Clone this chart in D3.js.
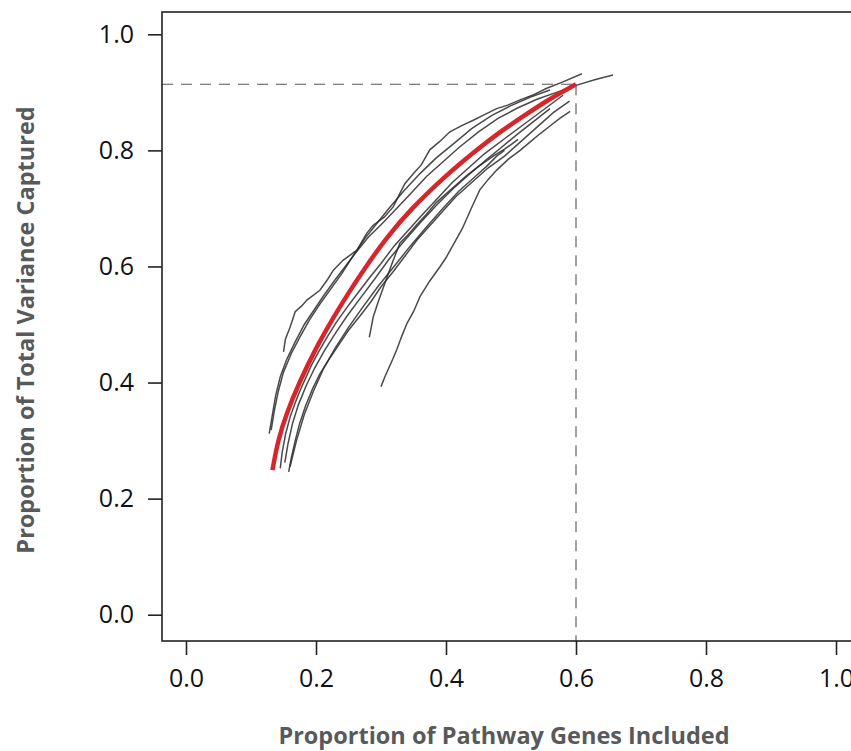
<!DOCTYPE html>
<html>
<head>
<meta charset="utf-8">
<script src="https://cdn.jsdelivr.net/npm/d3@7"></script>
<style>
  body { margin: 0; background: #fff; }
  svg text { font-family: "Open Sans", Lato, sans-serif; }
</style>
</head>
<body>
<svg id="chart" width="851" height="751"></svg>
<script>
// tick labels
const xTicks = [0, 0.2, 0.4, 0.6, 0.8, 1.0];
const yTicks = [0, 0.2, 0.4, 0.6, 0.8, 1.0];

// cut-off marker (dashed guide lines)
const cutX = 0.6;
const cutY = 0.914;

// fitted curve (red)
const fitCurve = [
  [0.133, 0.249], [0.1415, 0.301], [0.155, 0.348], [0.175, 0.402],
  [0.201, 0.462], [0.226, 0.511], [0.252, 0.558], [0.278, 0.602], [0.309, 0.650],
  [0.345, 0.698], [0.401, 0.758], [0.442, 0.796], [0.478, 0.828],
  [0.518, 0.858], [0.555, 0.886], [0.6, 0.914]
];

// individual pathway curves (grey)
const path1 = [
  [0.150, 0.453], [0.153, 0.475], [0.160, 0.495], [0.168, 0.522], [0.178, 0.532],
  [0.186, 0.542], [0.206, 0.559], [0.218, 0.578], [0.227, 0.594], [0.242, 0.611],
  [0.263, 0.628], [0.278, 0.657], [0.288, 0.671], [0.305, 0.685], [0.319, 0.703],
  [0.330, 0.728], [0.337, 0.743], [0.350, 0.760], [0.362, 0.775], [0.375, 0.801],
  [0.390, 0.815], [0.406, 0.832], [0.425, 0.843], [0.442, 0.852], [0.460, 0.862],
  [0.478, 0.872], [0.495, 0.878], [0.514, 0.887], [0.535, 0.896], [0.555, 0.907],
  [0.580, 0.918], [0.609, 0.932]
];
const path2 = [
  [0.128, 0.312], [0.133, 0.345], [0.138, 0.378], [0.145, 0.41], [0.155, 0.44],
  [0.168, 0.47], [0.182, 0.50], [0.197, 0.525], [0.212, 0.55], [0.228, 0.575],
  [0.245, 0.60], [0.262, 0.625], [0.28, 0.65], [0.30, 0.672], [0.32, 0.695],
  [0.345, 0.725], [0.37, 0.755], [0.395, 0.78], [0.42, 0.805], [0.45, 0.832],
  [0.48, 0.855], [0.51, 0.873], [0.54, 0.888], [0.57, 0.9], [0.6, 0.912],
  [0.63, 0.922], [0.657, 0.93]
];
const path3 = [
  [0.145, 0.252], [0.148, 0.28], [0.153, 0.31], [0.16, 0.34], [0.168, 0.365],
  [0.175, 0.385], [0.183, 0.405], [0.193, 0.43], [0.205, 0.455], [0.218, 0.48],
  [0.232, 0.505], [0.248, 0.53], [0.265, 0.555], [0.282, 0.58], [0.30, 0.605],
  [0.32, 0.635], [0.34, 0.66], [0.36, 0.685], [0.385, 0.715], [0.41, 0.745],
  [0.435, 0.77], [0.46, 0.795], [0.49, 0.82], [0.52, 0.845], [0.55, 0.87],
  [0.58, 0.895]
];
const path4 = [
  [0.158, 0.246], [0.162, 0.27], [0.168, 0.30], [0.175, 0.33], [0.184, 0.36],
  [0.195, 0.39], [0.206, 0.415], [0.22, 0.44], [0.235, 0.465], [0.25, 0.49],
  [0.268, 0.515], [0.285, 0.54], [0.30, 0.565], [0.318, 0.59], [0.335, 0.615],
  [0.355, 0.645], [0.375, 0.67], [0.395, 0.695], [0.415, 0.72], [0.44, 0.745],
  [0.465, 0.77], [0.49, 0.79], [0.515, 0.815], [0.54, 0.84], [0.565, 0.865],
  [0.59, 0.885]
];
const path5 = [
  [0.282, 0.478], [0.285, 0.495], [0.288, 0.513], [0.296, 0.54], [0.304, 0.565],
  [0.312, 0.59], [0.319, 0.611], [0.329, 0.64], [0.342, 0.655], [0.355, 0.672],
  [0.37, 0.69], [0.385, 0.71], [0.40, 0.725], [0.415, 0.74], [0.43, 0.755],
  [0.445, 0.768], [0.46, 0.78], [0.475, 0.792], [0.49, 0.802], [0.50, 0.81],
  [0.511, 0.819]
];
const path6 = [
  [0.30, 0.393], [0.306, 0.41], [0.312, 0.425], [0.318, 0.44], [0.324, 0.456],
  [0.332, 0.48], [0.34, 0.502], [0.35, 0.522], [0.36, 0.548], [0.375, 0.575],
  [0.391, 0.60], [0.40, 0.615], [0.41, 0.635], [0.425, 0.665], [0.44, 0.703],
  [0.452, 0.732], [0.465, 0.75], [0.478, 0.766], [0.496, 0.785], [0.514, 0.80],
  [0.53, 0.815], [0.545, 0.829], [0.56, 0.842], [0.575, 0.855], [0.591, 0.867]
];
const path7 = [
  [0.131, 0.318], [0.136, 0.352], [0.142, 0.385], [0.15, 0.418], [0.162, 0.45],
  [0.176, 0.48], [0.19, 0.508], [0.206, 0.535], [0.222, 0.56], [0.24, 0.588],
  [0.258, 0.62], [0.275, 0.648], [0.292, 0.672], [0.312, 0.70], [0.335, 0.73],
  [0.36, 0.76], [0.385, 0.787], [0.41, 0.81], [0.44, 0.838], [0.47, 0.86],
  [0.50, 0.877], [0.53, 0.892], [0.56, 0.904]
];
const path8 = [
  [0.16, 0.255], [0.17, 0.30], [0.182, 0.345], [0.196, 0.385], [0.212, 0.425],
  [0.23, 0.46], [0.25, 0.495], [0.272, 0.53], [0.295, 0.565], [0.32, 0.60],
  [0.345, 0.635], [0.37, 0.668], [0.395, 0.70], [0.42, 0.73], [0.445, 0.755],
  [0.462, 0.772], [0.478, 0.79], [0.49, 0.80]
];
const path9 = [
  [0.152, 0.262], [0.157, 0.295], [0.164, 0.33], [0.173, 0.362], [0.185, 0.395],
  [0.198, 0.425], [0.213, 0.455], [0.23, 0.485], [0.248, 0.515], [0.268, 0.545],
  [0.29, 0.578], [0.312, 0.612], [0.335, 0.643], [0.36, 0.675], [0.385, 0.705],
  [0.41, 0.733], [0.435, 0.758], [0.46, 0.782], [0.485, 0.805], [0.51, 0.828],
  [0.535, 0.85], [0.56, 0.872]
];
const pathways = [path1, path2, path3, path4, path5, path6, path7, path8, path9];

const svg = d3.select("#chart");

// plot frame
const box = { left: 162, top: 12, right: 862, bottom: 641 };

const x = d3.scaleLinear().domain([0, 1]).range([186, 836]);
const y = d3.scaleLinear().domain([0, 1]).range([614.7, 34.3]);

const line = d3.line()
  .x(d => x(d[0]))
  .y(d => y(d[1]));

// dashed guides
svg.append("line")
  .attr("x1", box.left).attr("x2", x(cutX))
  .attr("y1", y(cutY)).attr("y2", y(cutY))
  .attr("stroke", "#555").attr("stroke-width", 1.1)
  .attr("stroke-dasharray", "11,8");
svg.append("line")
  .attr("x1", x(cutX)).attr("x2", x(cutX))
  .attr("y1", y(cutY)).attr("y2", box.bottom)
  .attr("stroke", "#555").attr("stroke-width", 1.1)
  .attr("stroke-dasharray", "11,8");

// grey pathway curves
svg.append("g")
  .selectAll("path")
  .data(pathways)
  .join("path")
  .attr("d", line)
  .attr("fill", "none")
  .attr("stroke", "#2a2a2a")
  .attr("stroke-opacity", 0.85)
  .attr("stroke-width", 1.5);

// red fitted curve
svg.append("path")
  .datum(fitCurve)
  .attr("d", d3.line().x(d => x(d[0])).y(d => y(d[1])).curve(d3.curveBasis))
  .attr("fill", "none")
  .attr("stroke", "#d7262b")
  .attr("stroke-width", 4.5);

// frame
svg.append("rect")
  .attr("x", box.left).attr("y", box.top)
  .attr("width", box.right - box.left).attr("height", box.bottom - box.top)
  .attr("fill", "none").attr("stroke", "#222").attr("stroke-width", 1.6);

// axes
const fmt = d3.format(".1f");
const xAxis = svg.append("g")
  .attr("transform", `translate(0,${box.bottom})`)
  .call(d3.axisBottom(x).tickValues(xTicks).tickFormat(fmt).tickSize(14).tickPadding(14));
const yAxis = svg.append("g")
  .attr("transform", `translate(${box.left},0)`)
  .call(d3.axisLeft(y).tickValues(yTicks).tickFormat(fmt).tickSize(14).tickPadding(14));

[xAxis, yAxis].forEach(g => {
  g.select(".domain").remove();
  g.selectAll(".tick line").attr("stroke", "#222").attr("stroke-width", 1.6);
  g.selectAll(".tick text")
    .attr("fill", "#111")
    .style("font-size", "25px")
    .style("font-family", "'Open Sans', Lato, sans-serif");
});

// axis titles
svg.append("text")
  .attr("x", 504).attr("y", 744)
  .attr("text-anchor", "middle")
  .attr("fill", "#58595b")
  .style("font-size", "23.5px")
  .style("font-weight", "bold")
  .text("Proportion of Pathway Genes Included");

svg.append("text")
  .attr("transform", "translate(34,330) rotate(-90)")
  .attr("text-anchor", "middle")
  .attr("fill", "#58595b")
  .style("font-size", "23.5px")
  .style("font-weight", "bold")
  .text("Proportion of Total Variance Captured");
</script>
</body>
</html>
